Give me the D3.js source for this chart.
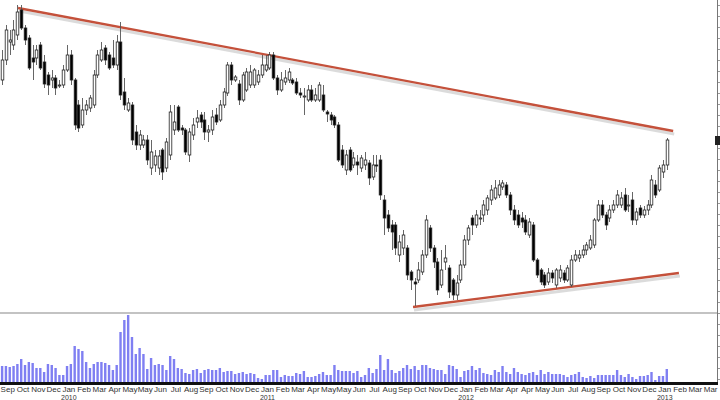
<!DOCTYPE html>
<html>
<head>
<meta charset="utf-8">
<script src="https://cdn.jsdelivr.net/npm/d3@7"></script>
<style>
body { margin:0; background:#fff; }
text { font-family: "Liberation Sans Narrow", "Liberation Sans", Arial, sans-serif; }
</style>
</head>
<body>
<div id="chart"></div>
<script>
var opens = [80,60,42,45,35,10,28,38,58,58,45,62,75,80,78,86,85,70,55,80,105,125,110,108,105,75,60,48,55,58,65,42,92,110,105,132,145,145,140,168,165,168,150,168,155,
	130,107,128,130,155,135,122,115,120,132,130,115,120,105,93,65,80,84,100,90,85,85,82,75,70,68,55,78,90,82,80,80,82,93,96,100,90,100,100,95,112,115,117,125,150,170,150,165,162,168,165,163,177,165,160,200,215,225,225,255,248,248,272,282,280,272,255,228,248,262,285,262,268,280,295,280,265,240,218,225,218,215,210,200,198,195,187,185,195,210,215,218,220,235,225,260,270,275,282,273,285,278,273,280,285,260,258,255,250,248,245,220,205,215,218,210,205,205,195,205,200,220,208,215,210,205,185,190,172,165]
var closes = [60,30,40,30,12,28,40,68,62,50,68,84,85,78,88,85,70,55,80,125,128,110,105,98,75,55,50,60,68,65,42,95,105,103,140,145,135,140,160,152,156,156,172,142,112,
	122,130,130,152,132,125,118,122,132,130,117,122,105,92,65,80,77,100,75,72,72,70,75,65,65,55,78,90,80,78,72,83,93,95,96,90,100,95,85,110,114,120,125,160,165,155,170,158,165,158,160,178,165,166,195,218,228,232,248,242,235,275,280,284,270,255,220,248,262,290,270,258,292,295,283,265,240,228,225,215,218,205,198,190,188,185,183,195,210,220,225,222,232,222,260,275,282,285,273,278,270,270,280,268,260,255,255,250,245,240,220,205,215,225,210,205,195,198,210,205,220,212,215,210,205,180,195,168,165,140]
var highs = [50,25,30,20,5,5,25,35,45,45,42,55,72,70,75,80,65,45,50,78,100,98,100,95,70,50,42,45,52,40,35,22,78,98,102,125,130,135,135,140,150,150,148,138,105,
	105,105,125,128,128,118,110,112,112,125,110,108,100,88,62,62,75,80,72,68,65,68,70,55,55,52,52,75,72,70,68,78,78,88,88,85,85,88,82,85,110,112,115,122,145,150,147,152,155,155,152,160,155,155,155,195,210,220,222,235,230,245,270,278,262,250,215,225,245,258,250,245,265,278,275,260,235,225,215,210,210,200,195,185,180,180,180,182,192,205,210,212,215,218,222,258,268,272,268,270,268,265,270,265,255,250,250,245,242,235,218,200,200,212,205,200,190,192,188,195,192,208,205,206,200,175,180,165,160,138]
var lows = [85,65,55,50,40,30,45,70,80,65,70,88,95,88,95,88,88,72,85,130,132,128,115,112,108,78,62,65,70,68,70,100,110,112,145,150,150,148,165,175,172,175,180,172,160,
	135,132,135,155,162,140,128,128,140,142,135,125,122,108,96,85,82,105,102,92,88,88,85,78,72,70,80,95,92,85,83,85,95,98,115,102,102,102,102,112,122,125,128,162,168,175,172,168,175,172,170,185,180,172,200,235,232,250,255,262,255,280,290,306,283,275,258,252,268,295,288,270,298,300,300,283,268,245,235,228,225,222,215,205,200,198,190,198,215,225,228,228,235,238,262,278,285,288,285,283,288,282,283,282,287,262,262,258,255,250,248,222,218,230,222,213,208,208,212,212,225,225,218,218,215,208,198,192,178,170]
var volumes = [16,16,15,16,18,23,17,20,19,14,14,10,18,17,14,7,7,16,18,36,33,31,20,14,18,20,20,19,17,12,
	17,50,62,67,45,28,34,28,13,24,17,18,17,12,26,23,14,13,9,8,12,13,9,12,13,12,12,14,10,11,
	11,8,9,10,8,9,8,4,3,7,7,12,12,5,7,6,6,9,8,11,5,5,6,8,10,7,7,17,12,11,11,11,9,
	11,5,7,14,9,13,27,12,23,12,9,11,14,17,13,16,12,17,17,14,13,12,12,8,17,16,13,5,11,12,
	16,12,14,9,8,7,12,10,16,10,8,14,10,8,7,9,10,7,12,8,10,8,8,8,7,5,7,8,10,5,4,6,4,7,
	7,7,7,7,12,7,5,8,5,3,6,6,7,10,2,6,6,13]
var monthLabels = ["Sep","Oct","Nov","Dec","Jan","Feb","Mar","Apr","May","May","Jun","Jul","Aug","Sep","Oct","Nov","Dec","Jan","Feb","Mar","Apr","May","May","Jun",
	"Jul","Aug","Sep","Oct","Nov","Dec","Jan","Feb","Mar","Apr","Apr","May","Jun","Jul","Aug","Sep","Oct","Nov","Dec","Jan","Feb","Mar","Mar"]
var yearLabels = [{slot:4, text:"2010"},{slot:17, text:"2011"},{slot:30, text:"2012"},{slot:43, text:"2013"}]
var upperTrend = [[4.2,8],[175.7,131]]
var lowerTrend = [[107.6,307],[177.2,273]]

var width = 720, height = 400

var svg = d3.select("#chart").append("svg")
	.attr("width", width)
	.attr("height", height)

var x = d3.scaleLinear().domain([0,175]).range([2, 670.5])
var y = d3.scaleLinear().domain([0,310]).range([0,310])
var yVol = d3.scaleLinear().domain([0,70]).range([382,312])

var bw = 2.6

// panel frames
svg.append("line").attr("x1",0).attr("x2",717).attr("y1",313).attr("y2",313)
	.attr("stroke","#888").attr("stroke-width",1.2)
svg.append("line").attr("x1",717.5).attr("x2",717.5).attr("y1",0).attr("y2",384)
	.attr("stroke","#777").attr("stroke-width",1)
var rticks = d3.range(0,380,11)
svg.selectAll(".rtick").data(rticks).enter().append("line")
	.attr("x1",718).attr("x2",721).attr("y1",function(d){return d+5.5}).attr("y2",function(d){return d+5.5})
	.attr("stroke","#999")
svg.append("rect").attr("x",715).attr("y",136).attr("width",6).attr("height",9).attr("fill","#222")

// trend line shadows and lines
var tline = d3.line().x(function(d){return x(d[0])}).y(function(d){return y(d[1])})
;[upperTrend, lowerTrend].forEach(function(t){
	svg.append("path").datum(t).attr("d", tline)
		.attr("transform","translate(1,3)")
		.attr("fill","none").attr("stroke","#ccc").attr("stroke-width",3).attr("opacity",0.7)
	svg.append("path").datum(t).attr("d", tline)
		.attr("fill","none").attr("stroke","#c4513b").attr("stroke-width",2.3)
})

// candles
var idx = d3.range(opens.length)
var g = svg.append("g")
g.selectAll(".wick").data(idx).enter().append("line")
	.attr("x1",function(i){return Math.round(x(i))+0.5})
	.attr("x2",function(i){return Math.round(x(i))+0.5})
	.attr("y1",function(i){return y(highs[i])})
	.attr("y2",function(i){return y(lows[i])})
	.attr("stroke","#555").attr("stroke-width",0.9)
g.selectAll(".body").data(idx).enter().append("rect")
	.attr("x",function(i){return Math.round(x(i))+0.5-bw/2})
	.attr("y",function(i){return y(Math.min(opens[i],closes[i]))})
	.attr("width",bw)
	.attr("height",function(i){return Math.max(1, Math.abs(y(opens[i])-y(closes[i])))})
	.attr("fill",function(i){return closes[i] > opens[i] ? "#000" : "#fff"})
	.attr("stroke","#222").attr("stroke-width",0.8)

// volume
svg.selectAll(".vol").data(volumes).enter().append("rect")
	.attr("x",function(d,i){return x(i)-1.1})
	.attr("y",function(d){return yVol(d)})
	.attr("width",2.4)
	.attr("height",function(d){return yVol(0)-yVol(d)})
	.attr("fill","#7f7ff2")

// bottom axis
svg.append("rect").attr("x",0).attr("y",382).attr("width",718).attr("height",3).attr("fill","#111")
var slotX = function(j){return x(1.5 + 4*j)}
svg.selectAll(".mlab").data(monthLabels).enter().append("text")
	.attr("x",function(d,j){return slotX(j)})
	.attr("y",391.5)
	.attr("text-anchor","middle")
	.attr("font-size",8)
	.attr("fill","#333")
	.text(function(d){return d})
svg.selectAll(".ylab").data(yearLabels).enter().append("text")
	.attr("x",function(d){return slotX(d.slot)})
	.attr("y",399.5)
	.attr("text-anchor","middle")
	.attr("font-size",7)
	.attr("fill","#333")
	.text(function(d){return d.text})
</script>
</body>
</html>
